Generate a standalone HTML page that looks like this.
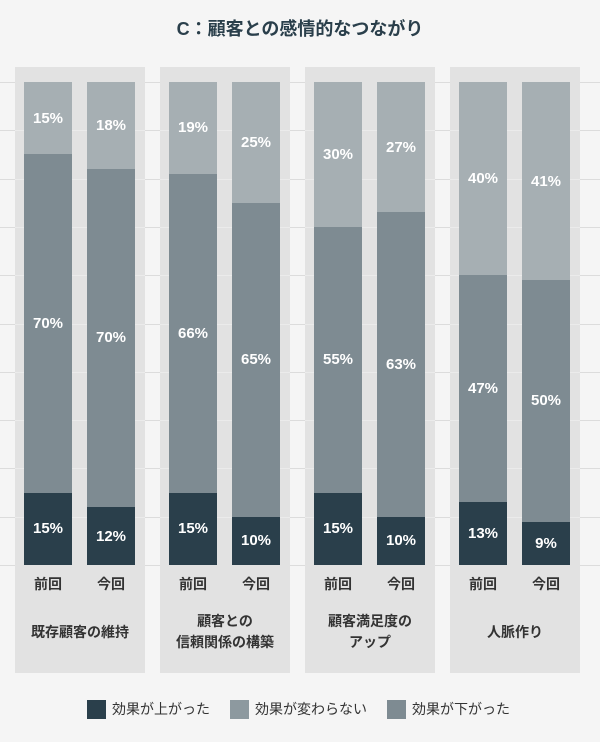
<!DOCTYPE html>
<html><head><meta charset="utf-8"><style>
*{margin:0;padding:0;box-sizing:border-box}
body{width:600px;height:742px;background:#f5f5f5;position:relative;overflow:hidden;font-family:"Liberation Sans","Noto Sans CJK JP",sans-serif}
.title{position:absolute;top:15px;left:0;width:600px;text-align:center;font-size:18px;font-weight:bold;color:#2a3f4b}
.grid{position:absolute;left:0;width:600px;height:1px;background:#dcdcdc}
.panel{position:absolute;top:67px;width:130px;height:606px;background:#e2e2e2}
.pg{position:absolute;left:0;width:130px;height:1px;background:#ebebeb}
.bar{position:absolute;top:15px;width:48px;height:483px;display:flex;flex-direction:column}
.bar div{display:flex;align-items:center;justify-content:center;color:#fff;font-weight:bold;font-size:15px}
.t{background:#a6afb3}.m{background:#7e8b92}.b{background:#2a3f4b}
.cat{position:absolute;top:507px;width:48px;text-align:center;font-size:14px;font-weight:bold;color:#333}
.grp{position:absolute;top:545px;left:0;width:130px;height:40px;display:flex;align-items:center;justify-content:center;text-align:center;font-size:14px;font-weight:bold;color:#333;line-height:21px}
.leg{position:absolute;top:699px;font-size:14px;color:#333;display:flex;align-items:center}
.leg span{display:inline-block;width:19px;height:19px;margin-right:6px}
</style></head><body>
<div class="title">C：顧客との感情的なつながり</div>
<div class="grid" style="top:82px"></div><div class="grid" style="top:130px"></div><div class="grid" style="top:179px"></div><div class="grid" style="top:227px"></div><div class="grid" style="top:275px"></div><div class="grid" style="top:324px"></div><div class="grid" style="top:372px"></div><div class="grid" style="top:420px"></div><div class="grid" style="top:468px"></div><div class="grid" style="top:517px"></div><div class="grid" style="top:565px"></div>

<div class="panel" style="left:15px">
<div class="pg" style="top:63px"></div><div class="pg" style="top:112px"></div><div class="pg" style="top:160px"></div><div class="pg" style="top:208px"></div><div class="pg" style="top:257px"></div><div class="pg" style="top:305px"></div><div class="pg" style="top:353px"></div><div class="pg" style="top:401px"></div><div class="pg" style="top:450px"></div>
<div class="bar" style="left:9px"><div class="t" style="flex:15">15%</div><div class="m" style="flex:70">70%</div><div class="b" style="flex:15">15%</div></div>
<div class="bar" style="left:72px"><div class="t" style="flex:18">18%</div><div class="m" style="flex:70">70%</div><div class="b" style="flex:12">12%</div></div>
<div class="cat" style="left:9px">前回</div><div class="cat" style="left:72px">今回</div>
<div class="grp">既存顧客の維持</div></div>

<div class="panel" style="left:160px">
<div class="pg" style="top:63px"></div><div class="pg" style="top:112px"></div><div class="pg" style="top:160px"></div><div class="pg" style="top:208px"></div><div class="pg" style="top:257px"></div><div class="pg" style="top:305px"></div><div class="pg" style="top:353px"></div><div class="pg" style="top:401px"></div><div class="pg" style="top:450px"></div>
<div class="bar" style="left:9px"><div class="t" style="flex:19">19%</div><div class="m" style="flex:66">66%</div><div class="b" style="flex:15">15%</div></div>
<div class="bar" style="left:72px"><div class="t" style="flex:25">25%</div><div class="m" style="flex:65">65%</div><div class="b" style="flex:10">10%</div></div>
<div class="cat" style="left:9px">前回</div><div class="cat" style="left:72px">今回</div>
<div class="grp">顧客との<br>信頼関係の構築</div></div>

<div class="panel" style="left:305px">
<div class="pg" style="top:63px"></div><div class="pg" style="top:112px"></div><div class="pg" style="top:160px"></div><div class="pg" style="top:208px"></div><div class="pg" style="top:257px"></div><div class="pg" style="top:305px"></div><div class="pg" style="top:353px"></div><div class="pg" style="top:401px"></div><div class="pg" style="top:450px"></div>
<div class="bar" style="left:9px"><div class="t" style="flex:30">30%</div><div class="m" style="flex:55">55%</div><div class="b" style="flex:15">15%</div></div>
<div class="bar" style="left:72px"><div class="t" style="flex:27">27%</div><div class="m" style="flex:63">63%</div><div class="b" style="flex:10">10%</div></div>
<div class="cat" style="left:9px">前回</div><div class="cat" style="left:72px">今回</div>
<div class="grp">顧客満足度の<br>アップ</div></div>

<div class="panel" style="left:450px">
<div class="pg" style="top:63px"></div><div class="pg" style="top:112px"></div><div class="pg" style="top:160px"></div><div class="pg" style="top:208px"></div><div class="pg" style="top:257px"></div><div class="pg" style="top:305px"></div><div class="pg" style="top:353px"></div><div class="pg" style="top:401px"></div><div class="pg" style="top:450px"></div>
<div class="bar" style="left:9px"><div class="t" style="flex:40">40%</div><div class="m" style="flex:47">47%</div><div class="b" style="flex:13">13%</div></div>
<div class="bar" style="left:72px"><div class="t" style="flex:41">41%</div><div class="m" style="flex:50">50%</div><div class="b" style="flex:9">9%</div></div>
<div class="cat" style="left:9px">前回</div><div class="cat" style="left:72px">今回</div>
<div class="grp">人脈作り</div></div>

<div class="leg" style="left:87px"><span style="background:#2a3f4b"></span>効果が上がった</div>
<div class="leg" style="left:230px"><span style="background:#8d999f"></span>効果が変わらない</div>
<div class="leg" style="left:387px"><span style="background:#7e8b92"></span>効果が下がった</div>
</body></html>
